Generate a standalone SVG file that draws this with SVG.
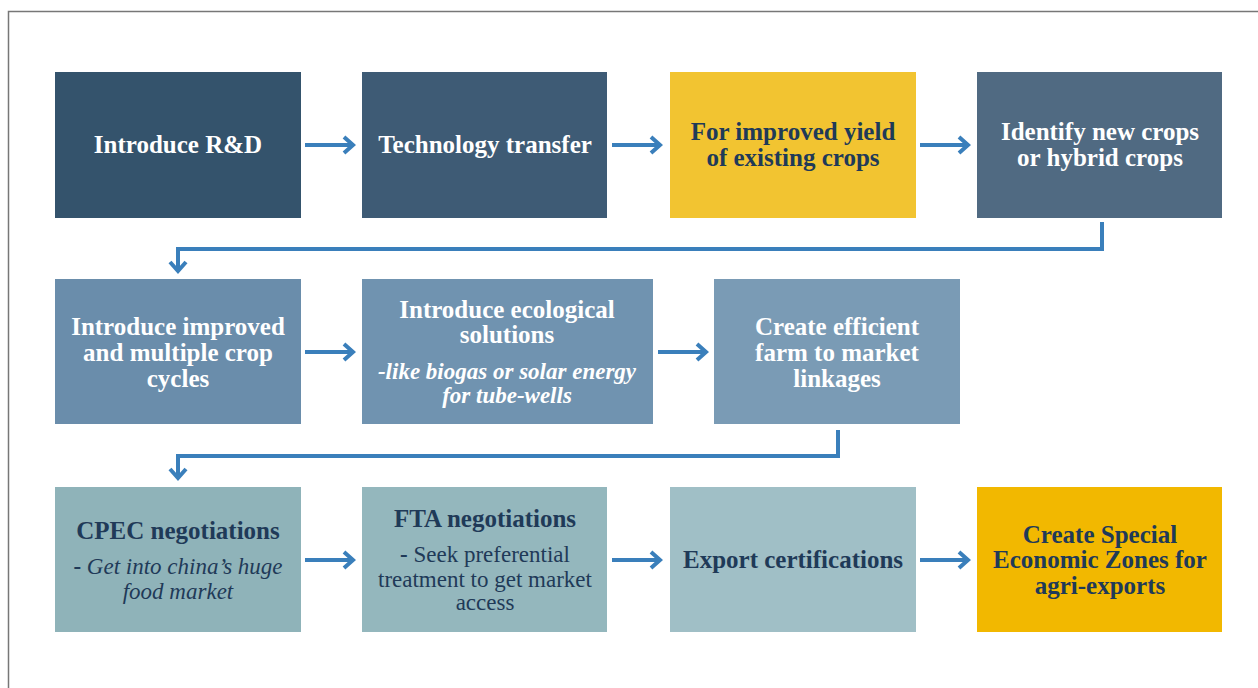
<svg xmlns="http://www.w3.org/2000/svg" width="1258" height="688" viewBox="0 0 1258 688">
<defs>
<marker id="chev" viewBox="-14 -12 18 24" markerWidth="18" markerHeight="24" refX="-2" refY="0" orient="auto" markerUnits="userSpaceOnUse" overflow="visible">
<path d="M-9,-8 L0,0 L-9,8" fill="none" stroke="#3a7fbb" stroke-width="4"/>
</marker>
</defs>
<style>
.t{font-family:"Liberation Serif","Times New Roman",serif;font-weight:bold;font-size:25px;text-anchor:middle}
.w{fill:#ffffff}
.d{fill:#1f3a58}
.sub{font-family:"Liberation Serif","Times New Roman",serif;font-size:23px;text-anchor:middle}
.c{fill:none;stroke:#3a7fbb;stroke-width:4;marker-end:url(#chev)}
</style>
<rect width="1258" height="688" fill="#ffffff"/>
<path d="M8.5,688 V11.5 H1258" fill="none" stroke="#777777" stroke-width="1.5"/>

<g id="n1"><rect x="55" y="72" width="246" height="146" fill="#34536c"/><text class="t w" x="178" y="153">Introduce R&amp;D</text></g>
<g id="n2"><rect x="362" y="72" width="245" height="146" fill="#3e5b75"/><text class="t w" x="485" y="153">Technology transfer</text></g>
<g id="n3"><rect x="670" y="72" width="246" height="146" fill="#f2c431"/><text class="t d" x="793" y="140">For improved  yield</text><text class="t d" x="793" y="166">of existing crops</text></g>
<g id="n4"><rect x="977" y="72" width="245" height="146" fill="#506a82"/><text class="t w" x="1100" y="140">Identify new crops</text><text class="t w" x="1100" y="166">or hybrid crops</text></g>

<g id="n5"><rect x="55" y="279" width="246" height="145" fill="#6a8dab"/><text class="t w" x="178" y="335">Introduce improved</text><text class="t w" x="178" y="361">and multiple crop</text><text class="t w" x="178" y="387">cycles</text></g>
<g id="n6"><rect x="362" y="279" width="291" height="145" fill="#7093b0"/><text class="t w" x="507" y="318">Introduce ecological</text><text class="t w" x="507" y="343">solutions</text><text class="sub w" x="507" y="379" font-weight="bold" font-style="italic">-like biogas or solar energy</text><text class="sub w" x="507" y="403" font-weight="bold" font-style="italic">for tube-wells</text></g>
<g id="n7"><rect x="714" y="279" width="246" height="145" fill="#7a9bb5"/><text class="t w" x="837" y="335">Create efficient</text><text class="t w" x="837" y="361">farm to market</text><text class="t w" x="837" y="387">linkages</text></g>

<g id="n8"><rect x="55" y="487" width="246" height="145" fill="#8fb3b9"/><text class="t d" x="178" y="539">CPEC negotiations</text><text class="sub d" x="178" y="574" font-size="24.5"><tspan font-weight="bold">- </tspan><tspan font-style="italic">Get into china’s huge</tspan></text><text class="sub d" x="178" y="599" font-size="24.5" font-style="italic">food market</text></g>
<g id="n9"><rect x="362" y="487" width="245" height="145" fill="#94b7bd"/><text class="t d" x="485" y="527">FTA negotiations</text><text class="sub d" x="485" y="562" font-size="23.5"><tspan font-weight="bold">- </tspan>Seek preferential</text><text class="sub d" x="485" y="587" font-size="23.5">treatment to get market</text><text class="sub d" x="485" y="610" font-size="23.5">access</text></g>
<g id="n10"><rect x="670" y="487" width="246" height="145" fill="#a0bfc6"/><text class="t d" x="793" y="568">Export certifications</text></g>
<g id="n11"><rect x="977" y="487" width="245" height="145" fill="#f2b800"/><text class="t d" x="1100" y="543">Create Special</text><text class="t d" x="1100" y="568">Economic Zones for</text><text class="t d" x="1100" y="594">agri-exports</text></g>

<g id="connectors">
<path class="c" d="M305,145 H351"/>
<path class="c" d="M612,145 H658"/>
<path class="c" d="M920,145 H966"/>
<path class="c" d="M1102,222 V249 H178 V269"/>
<path class="c" d="M305,352 H351"/>
<path class="c" d="M658,352 H704"/>
<path class="c" d="M838,430 V456 H178 V476"/>
<path class="c" d="M305,560 H351"/>
<path class="c" d="M612,560 H658"/>
<path class="c" d="M920,560 H966"/>
</g>
</svg>
